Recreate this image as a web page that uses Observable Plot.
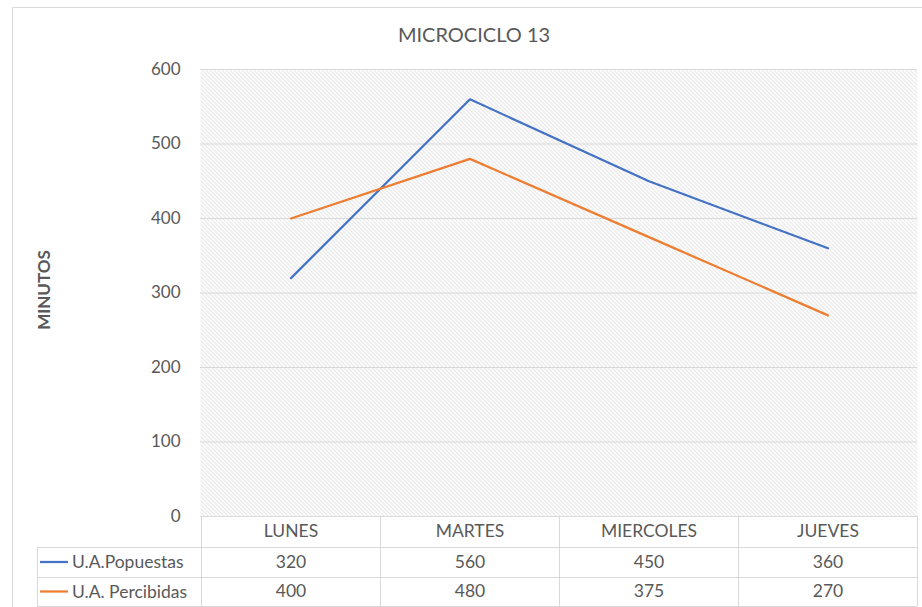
<!DOCTYPE html>
<html><head><meta charset="utf-8">
<script src="https://cdn.jsdelivr.net/npm/d3@7"></script>
<script src="https://cdn.jsdelivr.net/npm/@observablehq/plot@0.6"></script>
<style>body{margin:0;background:#fff}</style>
</head><body><div id="chart"></div>
<script>
const days = ["LUNES", "MARTES", "MIERCOLES", "JUEVES"];
const propuestas = [320, 560, 450, 360];
const percibidas = [400, 480, 375, 270];
const seriesNames = ["U.A.Popuestas", "U.A. Percibidas"];
const seriesColors = ["#4472C4", "#ED7D31"];
const yTicks = [0, 100, 200, 300, 400, 500, 600];
const title = "MICROCICLO 13";
const yLabel = "MINUTOS";

const data = [];
days.forEach((d, i) => {
  data.push({day: d, value: propuestas[i], series: seriesNames[0]});
  data.push({day: d, value: percibidas[i], series: seriesNames[1]});
});

const font = "Lato, 'Open Sans', sans-serif";
const txt = "#595959";
const gridC = "#d9d9d9";

const plot = Plot.plot({
  width: 922, height: 607,
  marginLeft: 200, marginRight: 5, marginTop: 69, marginBottom: 91,
  style: {fontFamily: font, fontSize: "16px", color: txt, background: "transparent", overflow: "visible"},
  x: {type: "band", domain: days, padding: 0, axis: null},
  y: {domain: [0, 600], axis: null},
  color: {domain: seriesNames, range: seriesColors},
  marks: [
    Plot.frame({fill: "url(#hatch)", stroke: null}),
    Plot.gridY(yTicks, {stroke: gridC, strokeOpacity: 1, strokeWidth: 1}),
    Plot.axisY(yTicks, {tickSize: 0, tickPadding: 20, fontSize: 17, fill: txt, label: null}),
    Plot.lineY(data, {x: "day", y: "value", stroke: "series", strokeWidth: 2.25}),
    Plot.text(days, {x: d => d, y: () => 0, text: d => d, dy: 15, fontSize: 17.5, fill: txt}),
    Plot.text(days, {x: d => d, y: () => 0, text: (d, i) => String(propuestas[i]), dy: 46, fontSize: 17.5, fill: txt}),
    Plot.text(days, {x: d => d, y: () => 0, text: (d, i) => String(percibidas[i]), dy: 75, fontSize: 17.5, fill: txt})
  ]
});

const svg = d3.select(plot);
const defs = svg.insert("defs", ":first-child");
const pat = defs.append("pattern").attr("id", "hatch").attr("patternUnits", "userSpaceOnUse")
  .attr("width", 4).attr("height", 4);
pat.append("rect").attr("width", 4).attr("height", 4).attr("fill", "#fff");
pat.append("path").attr("d", "M-1,-1L5,5M3,-1L5,1M-1,3L1,5").attr("stroke", "#d6d6d6").attr("stroke-width", 1);

const xs = plot.scale("x"), ys = plot.scale("y");
const bw = xs.bandwidth;
const x0 = xs.apply(days[0]);
const xEnd = xs.apply(days[days.length - 1]) + bw;
const yb = ys.apply(0);
const rowOff = [0, 31, 61, 90];
const legendLeft = 37;
const g = svg.append("g").attr("stroke", gridC).attr("stroke-width", 1).attr("shape-rendering", "crispEdges");
g.append("line").attr("x1", x0).attr("x2", xEnd).attr("y1", yb + 0.5).attr("y2", yb + 0.5);
rowOff.slice(1).forEach(o => g.append("line").attr("x1", legendLeft).attr("x2", xEnd).attr("y1", yb + o).attr("y2", yb + o));
days.forEach(d => {
  const xx = xs.apply(d);
  g.append("line").attr("x1", xx).attr("x2", xx).attr("y1", yb).attr("y2", yb + rowOff[3]);
});
g.append("line").attr("x1", xEnd).attr("x2", xEnd).attr("y1", yb).attr("y2", yb + rowOff[3]);
g.append("line").attr("x1", legendLeft).attr("x2", legendLeft).attr("y1", yb + rowOff[1]).attr("y2", yb + rowOff[3]);

// legend keys inside the data table
seriesNames.forEach((s, i) => {
  const cy = yb + (rowOff[i + 1] + rowOff[i + 2]) / 2;
  svg.append("line").attr("x1", legendLeft + 3).attr("x2", legendLeft + 31).attr("y1", cy).attr("y2", cy)
    .attr("stroke", seriesColors[i]).attr("stroke-width", 2.25);
  svg.append("text").attr("x", legendLeft + 35).attr("y", cy).attr("dy", "0.35em").attr("text-anchor", "start")
    .attr("font-family", font).attr("font-size", 17.5).attr("fill", txt).text(s);
});

// chart outer border
svg.append("path").attr("d", "M12.5,607V7.5H922").attr("fill", "none").attr("stroke", gridC);

// title and y label
svg.append("text").attr("x", 474).attr("y", 35).attr("dy", "0.35em").attr("text-anchor", "middle")
  .attr("font-family", font).attr("font-size", 20).attr("fill", txt).text(title);
svg.append("text").attr("transform", "translate(44,290) rotate(-90)").attr("dy", "0.35em").attr("text-anchor", "middle")
  .attr("font-family", font).attr("font-size", 17).attr("font-weight", "bold").attr("fill", txt).text(yLabel);

document.getElementById("chart").appendChild(plot);
</script>
</body></html>
